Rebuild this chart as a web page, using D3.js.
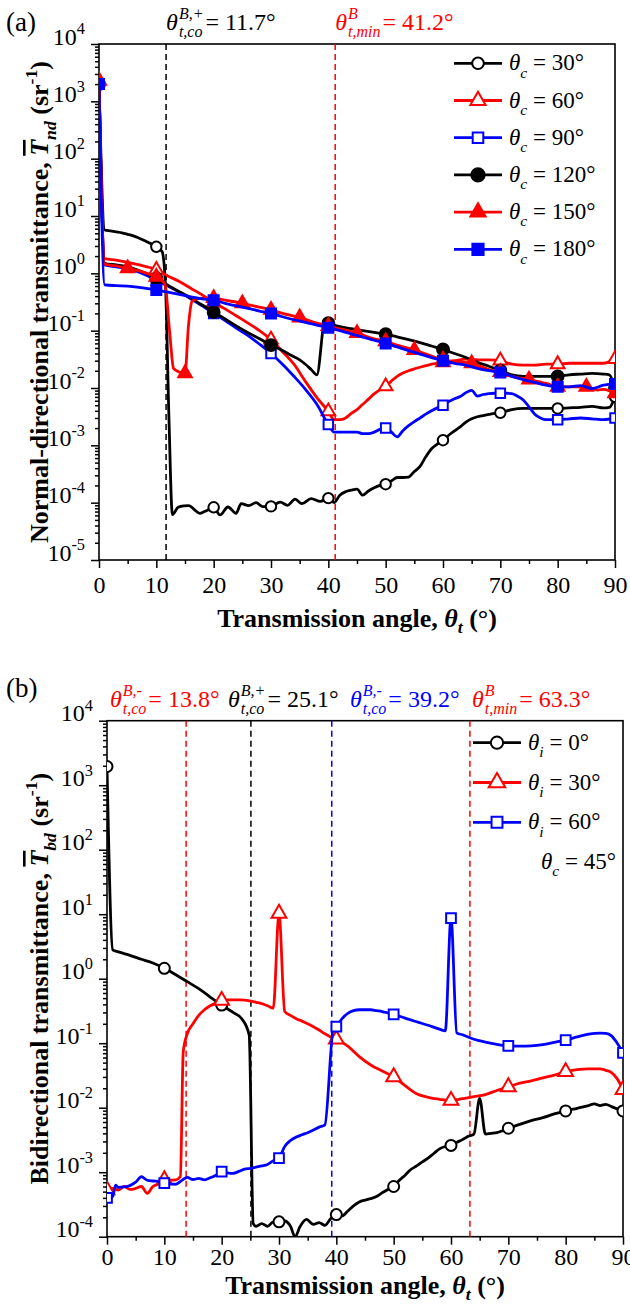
<!DOCTYPE html>
<html>
<head>
<meta charset="utf-8">
<script src="https://cdn.jsdelivr.net/npm/d3@7"></script>
<style>
  body { margin: 0; background: #fff; }
  svg text { font-family: "Liberation Serif", "Times New Roman", serif; }
</style>
</head>
<body>
<div id="plot"></div>
<script>
// ---------- data: panel (a), normal-directional transmittance ----------
var xTicks = [0, 10, 20, 30, 40, 50, 60, 70, 80, 90];
var xMinor = [5, 15, 25, 35, 45, 55, 65, 75, 85];
var expA = [-5, -4, -3, -2, -1, 0, 1, 2, 3, 4];
var expB = [-4, -3, -2, -1, 0, 1, 2, 3, 4];

var nd30 = [[0,2000],[1,5.7],[2,5.5],[3,5.3],[4,5.1],[5,4.8],[6,4.5],[7,4.1],[8,3.7],[9,3.3],[10,2.9],[11,2.4],[11.6,0.6],[12.2,0.003],[12.8,6.2e-5],[13.8,8.3e-5],[14.8,8.8e-5],[15.7,8.9e-5],[16.6,7.6e-5],[17.6,6.5e-5],[18.4,7.0e-5],[19.1,7.5e-5],[20,8.3e-5],[21.1,6.1e-5],[22.5,8.4e-5],[23.9,6.5e-5],[24.8,9.6e-5],[26.1,8.9e-5],[27.4,1.0e-4],[28.6,8.5e-5],[30,8.6e-5],[31.6,1.02e-4],[32.9,9.0e-5],[34.2,1.15e-4],[35.4,9.6e-5],[37,1.18e-4],[38.6,1.05e-4],[40,1.2e-4],[41,1.0e-4],[42,1.35e-4],[43,1.55e-4],[44,1.65e-4],[45,1.72e-4],[46,1.35e-4],[47,1.6e-4],[48,1.82e-4],[49,2.0e-4],[50,2.1e-4],[51,2.4e-4],[52,2.75e-4],[53,2.75e-4],[54,2.8e-4],[55,3.5e-4],[56,4.3e-4],[57,6.3e-4],[58,8.7e-4],[59,1.05e-3],[60,1.23e-3],[61,1.5e-3],[62,1.78e-3],[63,2.1e-3],[64,2.55e-3],[65,2.9e-3],[66,3.15e-3],[67,3.3e-3],[68,3.45e-3],[69,3.6e-3],[70,3.7e-3],[72,4.2e-3],[74,4.4e-3],[76,4.4e-3],[78,4.4e-3],[80,4.4e-3],[82,4.5e-3],[84,4.6e-3],[86,4.8e-3],[88,4.5e-3],[89,4.6e-3],[90,7e-3]];

var nd60 = [[0,2300],[1,1.8],[3,1.7],[5,1.55],[7,1.4],[9,1.25],[10,1.15],[12,0.9],[14,0.72],[16,0.55],[18,0.42],[20,0.31],[22,0.24],[24,0.18],[26,0.135],[28,0.1],[30,0.07],[32,0.043],[34,0.026],[36,0.013],[38,0.0068],[40,0.0039],[41,0.0028],[42,0.0028],[43,0.003],[44,0.0036],[45,0.0042],[46,0.0052],[47,0.0064],[48,0.0079],[49,0.0093],[50,0.0107],[51,0.0132],[52,0.016],[53,0.0182],[54,0.02],[55,0.0215],[56,0.023],[57,0.0245],[58,0.026],[59,0.027],[60,0.028],[62,0.03],[64,0.032],[66,0.031],[68,0.031],[70,0.03],[72,0.026],[74,0.025],[76,0.025],[78,0.026],[80,0.026],[82,0.027],[84,0.027],[86,0.027],[88,0.027],[90,0.032]];

var nd90 = [[0,2000],[1,1.4],[3,1.3],[5,1.2],[7,1.05],[9,0.85],[10,0.75],[12,0.6],[14,0.47],[16,0.36],[18,0.27],[20,0.2],[22,0.15],[24,0.11],[26,0.082],[28,0.058],[30,0.04],[32,0.026],[34,0.016],[36,0.0095],[38,0.0052],[40,0.0023],[41,0.0017],[42,0.0017],[43,0.0017],[44,0.0017],[45,0.0017],[46,0.0016],[47,0.0016],[48,0.0017],[49,0.0019],[50,0.002],[51,0.0017],[52,0.0014],[53,0.0018],[54,0.0022],[55,0.0026],[56,0.003],[57,0.0035],[58,0.004],[59,0.0045],[60,0.005],[61,0.0058],[62,0.0065],[63,0.0071],[64,0.0083],[65,0.0091],[66,0.0072],[67,0.0077],[68,0.008],[69,0.0081],[70,0.0081],[71,0.0081],[72,0.008],[73,0.0072],[74,0.0062],[75,0.0047],[76,0.0035],[77,0.003],[78,0.0028],[80,0.0028],[82,0.0029],[84,0.003],[86,0.0029],[88,0.0028],[90,0.003]];

var nd120 = [[0,2000],[1,1.5],[3,1.4],[5,1.3],[7,1.12],[9,0.92],[10,0.82],[12,0.62],[14,0.48],[16,0.37],[18,0.28],[20,0.21],[22,0.16],[24,0.12],[26,0.092],[28,0.072],[30,0.056],[32,0.045],[34,0.035],[35,0.031],[36,0.026],[37,0.021],[38,0.017],[39.4,0.145],[40,0.135],[42,0.118],[44,0.108],[46,0.1],[48,0.093],[50,0.087],[52,0.078],[54,0.07],[56,0.062],[58,0.054],[60,0.047],[62,0.04],[64,0.034],[66,0.028],[68,0.024],[70,0.02],[72,0.017],[74,0.016],[76,0.016],[78,0.016],[80,0.016],[82,0.017],[84,0.0175],[86,0.018],[88,0.0175],[89,0.017],[90,0.010]];

var nd150 = [[0,2300],[1,1.45],[3,1.35],[5,1.22],[7,1.1],[9,0.95],[10,0.87],[11.5,0.65],[12.3,0.1],[13,0.022],[14,0.019],[15,0.018],[15.6,0.12],[16.2,0.32],[17,0.36],[18,0.37],[20,0.37],[22,0.34],[25,0.3],[27,0.27],[30,0.23],[32,0.2],[35,0.17],[38,0.135],[40,0.12],[42,0.108],[45,0.091],[48,0.072],[50,0.065],[52,0.056],[55,0.046],[58,0.036],[60,0.031],[62,0.029],[65,0.027],[68,0.021],[70,0.019],[72,0.016],[75,0.014],[78,0.012],[80,0.0105],[82,0.0105],[85,0.0105],[87,0.0092],[88,0.0095],[90,0.0081]];

var nd180 = [[0,2000],[1,0.63],[3,0.61],[5,0.6],[7,0.57],[9,0.53],[10,0.51],[12,0.47],[14,0.43],[16,0.39],[18,0.36],[20,0.34],[22,0.3],[24,0.27],[26,0.245],[28,0.22],[30,0.2],[32,0.175],[34,0.155],[36,0.14],[38,0.125],[40,0.112],[42,0.1],[44,0.088],[46,0.077],[48,0.068],[50,0.06],[52,0.052],[54,0.045],[56,0.039],[58,0.034],[60,0.03],[62,0.027],[64,0.025],[66,0.022],[68,0.02],[70,0.0186],[72,0.016],[74,0.014],[76,0.0125],[78,0.0112],[80,0.0105],[82,0.0105],[84,0.011],[86,0.0098],[88,0.0112],[90,0.0118]];

// ---------- data: panel (b), bidirectional transmittance ----------
var bd0 = [[0,1950],[1,2.8],[2,2.6],[4,2.3],[6,2.0],[8,1.75],[10,1.45],[12,1.15],[14,0.9],[16,0.7],[18,0.52],[20,0.39],[22,0.3],[23.5,0.24],[24.8,0.134],[25.5,1.6e-4],[26,1.45e-4],[27,1.6e-4],[28,1.45e-4],[29,1.7e-4],[30,1.7e-4],[31,1.75e-4],[32,1.45e-4],[32.8,1.0e-4],[33.7,1.45e-4],[34.8,1.85e-4],[36,1.55e-4],[37,1.65e-4],[38,1.5e-4],[39,1.9e-4],[40,2.2e-4],[41,2.1e-4],[42,2.5e-4],[43,3.0e-4],[44,3.45e-4],[45,3.7e-4],[46,3.9e-4],[47,4.2e-4],[48,4.8e-4],[49,5.4e-4],[50,6.0e-4],[51,7.5e-4],[52,9.0e-4],[53,1.1e-3],[54,1.25e-3],[55,1.45e-3],[56,1.65e-3],[57,1.95e-3],[58,2.3e-3],[59,2.5e-3],[60,2.6e-3],[61,2.9e-3],[62,3.2e-3],[63,3.6e-3],[64,3.9e-3],[65,0.014],[66,3.9e-3],[67,4.0e-3],[68,4.1e-3],[69,4.4e-3],[70,4.8e-3],[72,5.5e-3],[74,6.3e-3],[76,7.0e-3],[78,8.0e-3],[80,8.9e-3],[82,9.8e-3],[84,0.0108],[85,0.0115],[86,0.0108],[87,0.0113],[88,0.0104],[89,0.0096],[90,0.0089]];

var bd30 = [[0,5.3e-4],[1,5.6e-4],[2,5.3e-4],[3,6.0e-4],[4,5.4e-4],[5,5.6e-4],[6,6.0e-4],[7,4.7e-4],[8,6.0e-4],[9,6.6e-4],[10,7.6e-4],[11,7.5e-4],[12,7.6e-4],[12.8,8.6e-4],[13.3,0.074],[14,0.14],[15,0.2],[16,0.27],[17,0.33],[18,0.38],[19,0.42],[20,0.46],[21,0.47],[22,0.47],[23,0.47],[24,0.465],[25,0.45],[26,0.43],[27,0.41],[28,0.38],[29,0.35],[30,10.3],[31,0.31],[32,0.27],[33,0.24],[34,0.22],[35,0.2],[36,0.18],[37,0.16],[38,0.14],[39,0.125],[40,0.115],[42,0.09],[44,0.062],[46,0.046],[48,0.037],[50,0.030],[52,0.022],[54,0.0165],[56,0.0145],[58,0.0135],[60,0.0129],[62,0.0138],[64,0.0148],[66,0.016],[68,0.0185],[70,0.021],[72,0.024],[74,0.026],[76,0.029],[78,0.032],[80,0.036],[82,0.039],[84,0.04],[86,0.04],[87,0.038],[88,0.035],[89,0.028],[90,0.019]];

var bd60 = [[0,4.0e-4],[1,4.2e-4],[1.5,6.3e-4],[2,5.8e-4],[3,5.9e-4],[4,6.2e-4],[5,7.0e-4],[6,8.5e-4],[7,7.5e-4],[8,7.3e-4],[9,7.2e-4],[10,6.8e-4],[11,6.6e-4],[12,6.5e-4],[13,7.4e-4],[14,8.3e-4],[15,7.7e-4],[16,8.0e-4],[17,7.6e-4],[18,8.2e-4],[19,9.0e-4],[20,1.02e-3],[21,9.8e-4],[22,9.6e-4],[23,1.03e-3],[24,1.12e-3],[25,1.15e-3],[26,1.2e-3],[27,1.25e-3],[28,1.32e-3],[29,1.5e-3],[30,1.65e-3],[31,2.5e-3],[32,3.1e-3],[33,3.5e-3],[34,3.8e-3],[35,4.1e-3],[36,4.5e-3],[37,5.0e-3],[38,5.4e-3],[39.5,0.17],[40,0.18],[41,0.24],[42,0.29],[43,0.32],[44,0.33],[45,0.33],[46,0.33],[47,0.32],[48,0.31],[49,0.295],[50,0.28],[52,0.245],[54,0.215],[56,0.19],[58,0.165],[59,0.155],[60,8.7],[61,0.145],[62,0.135],[64,0.115],[66,0.104],[68,0.096],[70,0.091],[72,0.09],[74,0.091],[76,0.095],[78,0.103],[80,0.112],[82,0.125],[84,0.138],[86,0.143],[87,0.142],[88,0.13],[89,0.1],[90,0.071]];

// legend / annotation labels
var legendA = ["30°", "60°", "90°", "120°", "150°", "180°"];
var legendB = ["0°", "30°", "60°"];
var markA = [11.7, 41.2];
var markB = [13.8, 25.1, 39.2, 63.3];

var FS = 24;     // tick labels, annotations
var LFS = 23;    // legend
var TFS = 26;    // axis titles
var svg = d3.select("#plot").append("svg")
    .attr("width", 630)
    .attr("height", 1308);

// rich text with italic / sub / sup pieces in tspans
function rich(t, parts, fs, subShift) {
    var shift = 0;
    var sb = subShift || 0.32;
    parts.forEach(function(p) {
        var target = p.s === "sub" ? fs * sb : (p.s === "sup" ? -fs * 0.42 : 0);
        var ts = t.append("tspan").text(p.t)
            .attr("dy", target - shift)
            .style("font-size", (p.s ? fs * 0.68 : fs) + "px");
        if (p.i) ts.style("font-style", "italic");
        if (p.o) ts.style("text-decoration", "overline");
        shift = target;
    });
}

// theta with stacked super- and subscript, then "= value"
function stacked(x, y, color, sup, sub, rest) {
    var g = svg.append("g").attr("fill", color);
    var t1 = g.append("text").attr("x", x).attr("y", y).style("font-size", FS + "px")
        .style("font-style", "italic").text("θ");
    var w = t1.node().getComputedTextLength();
    var s1 = g.append("text").attr("x", x + w + 1).attr("y", y - 11).style("font-size", "16px")
        .style("font-style", "italic").text(sup);
    var s2 = g.append("text").attr("x", x + w + 1).attr("y", y + 7).style("font-size", "16px")
        .style("font-style", "italic").text(sub);
    var ws = Math.max(s1.node().getComputedTextLength(), s2.node().getComputedTextLength());
    g.append("text").attr("x", x + w + ws + 3).attr("y", y).style("font-size", FS + "px").text(rest);
}

function panel(cfg) {
    var x = d3.scaleLinear().domain([0, 90]).range([cfg.left, cfg.left + 516]);
    var y = d3.scaleLog().domain([Math.pow(10, cfg.exps[0]), Math.pow(10, cfg.exps[cfg.exps.length - 1])])
        .range([cfg.bottom, cfg.top]);
    var g = svg.append("g");

    // Axes
    var majorY = cfg.exps.map(function(e) { return Math.pow(10, e); });
    var minorY = [];
    cfg.exps.slice(0, -1).forEach(function(e) {
        for (var m = 2; m <= 9; m++) minorY.push(m * Math.pow(10, e));
    });
    g.append("g").attr("transform", "translate(0," + cfg.bottom + ")")
        .call(d3.axisBottom(x).tickValues(xMinor).tickSize(4).tickFormat(""));
    var xa = g.append("g").attr("transform", "translate(0," + cfg.bottom + ")")
        .call(d3.axisBottom(x).tickValues(xTicks).tickSize(8).tickPadding(cfg.xPad));
    xa.selectAll("text").style("font-size", FS + "px").attr("fill", "#000");
    g.append("g").attr("transform", "translate(" + cfg.left + ",0)")
        .call(d3.axisLeft(y).tickValues(minorY).tickSize(4).tickFormat(""));
    var ya = g.append("g").attr("transform", "translate(" + cfg.left + ",0)")
        .call(d3.axisLeft(y).tickValues(majorY).tickSize(8).tickPadding(6));
    ya.selectAll(".tick text").each(function(d) {
        var t = d3.select(this).text(null).attr("dy", "0.32em").attr("fill", "#000");
        rich(t, [{t: "10"}, {t: String(Math.round(Math.log10(d))), s: "sup"}], FS);
    });
    g.selectAll(".domain").remove();
    g.selectAll(".tick line").attr("stroke", "#000").attr("stroke-width", 1.5);
    g.selectAll("g").attr("font-family", null);

    // Frame
    g.append("rect").attr("x", cfg.left).attr("y", cfg.top)
        .attr("width", 516).attr("height", cfg.bottom - cfg.top)
        .attr("fill", "none").attr("stroke", "#000").attr("stroke-width", 1.6);

    // Dashed guide lines
    cfg.guides.forEach(function(d) {
        g.append("line").attr("x1", x(d.v)).attr("x2", x(d.v))
            .attr("y1", cfg.top).attr("y2", cfg.bottom)
            .attr("stroke", d.c).attr("stroke-width", 1.5).attr("stroke-dasharray", "6,4");
    });

    // Clip
    var clipId = "clip" + cfg.name;
    svg.append("clipPath").attr("id", clipId).append("rect")
        .attr("x", cfg.left).attr("y", cfg.top).attr("width", 516).attr("height", cfg.bottom - cfg.top);
    var plot = g.append("g").attr("clip-path", "url(#" + clipId + ")");

    var line = d3.line()
        .x(function(d) { return x(d[0]); })
        .y(function(d) { return y(d[1]); })
        .curve(d3.curveMonotoneX);

    cfg.series.forEach(function(s) {
        plot.append("path").datum(s.data)
            .attr("d", line).attr("fill", "none")
            .attr("stroke", s.color).attr("stroke-width", 2.8).attr("stroke-linejoin", "round");
        var pts = s.data.filter(function(d) { return d[0] % s.step === 0; });
        plot.selectAll(null).data(pts).enter().append("path")
            .attr("transform", function(d) { return "translate(" + x(d[0]) + "," + y(d[1]) + ")"; })
            .attr("d", d3.symbol().type(s.shape).size(s.size))
            .attr("fill", s.filled ? s.color : "#fff")
            .attr("stroke", s.color).attr("stroke-width", 2);
    });

    // Legend
    cfg.series.forEach(function(s, i) {
        var ly = cfg.legY + i * cfg.legDy;
        g.append("line").attr("x1", cfg.legX).attr("x2", cfg.legX + 48)
            .attr("y1", ly).attr("y2", ly).attr("stroke", s.color).attr("stroke-width", 2.8);
        g.append("path").attr("transform", "translate(" + (cfg.legX + 24) + "," + ly + ")")
            .attr("d", d3.symbol().type(s.shape).size(s.size * 1.25))
            .attr("fill", s.filled ? s.color : "#fff")
            .attr("stroke", s.color).attr("stroke-width", 2);
        var t = g.append("text").attr("x", cfg.legX + 55).attr("y", ly + 7).style("font-size", LFS + "px");
        rich(t, [{t: "θ", i: true}, {t: cfg.sym, i: true, s: "sub"}, {t: " = " + s.label}], LFS);
    });

    // Axis titles
    var xt = g.append("text").attr("x", cfg.left + 258).attr("y", cfg.xTitleY)
        .attr("text-anchor", "middle").style("font-weight", "bold").style("font-size", TFS + "px");
    rich(xt, [{t: "Transmission angle, "}, {t: "θ", i: true}, {t: "t", i: true, s: "sub"}, {t: " (°)"}], TFS, 0.24);
    var yt = g.append("text")
        .attr("transform", "translate(" + cfg.yTitleX + "," + ((cfg.top + cfg.bottom) / 2) + ") rotate(-90)")
        .attr("text-anchor", "middle").style("font-weight", "bold").style("font-size", TFS + "px");
    rich(yt, [{t: cfg.yTitle}, {t: "T", i: true, o: true}, {t: cfg.ySub, i: true, s: "sub"},
        {t: " (sr"}, {t: "-1", s: "sup"}, {t: ")"}], TFS);

    g.append("text").attr("x", 6).attr("y", cfg.tagY).style("font-size", "27px").text(cfg.tag);
    return x;
}

var circ = d3.symbolCircle, tri = d3.symbolTriangle, sq = d3.symbolSquare;

var xA = panel({
    name: "A", left: 99, top: 44, bottom: 560, exps: expA, xPad: 8, xTitleY: 627,
    yTitleX: 48, yTitle: "Normal-directional transmittance, ", ySub: "nd", tag: "(a)", tagY: 31,
    sym: "c", legX: 454, legY: 63.3, legDy: 37.2,
    guides: [{v: markA[0], c: "#000"}, {v: markA[1], c: "#ff0000"}],
    series: [
        {data: nd30, color: "#000", shape: circ, filled: false, step: 10, size: 85, label: legendA[0]},
        {data: nd60, color: "#ff0000", shape: tri, filled: false, step: 10, size: 80, label: legendA[1]},
        {data: nd90, color: "#0000ff", shape: sq, filled: false, step: 10, size: 90, label: legendA[2]},
        {data: nd120, color: "#000", shape: circ, filled: true, step: 10, size: 110, label: legendA[3]},
        {data: nd150, color: "#ff0000", shape: tri, filled: true, step: 5, size: 80, label: legendA[4]},
        {data: nd180, color: "#0000ff", shape: sq, filled: true, step: 10, size: 100, label: legendA[5]}
    ]
});

var xB = panel({
    name: "B", left: 107, top: 720.7, bottom: 1236.7, exps: expB, xPad: 3, xTitleY: 1294,
    yTitleX: 48, yTitle: "Bidirectional transmittance, ", ySub: "bd", tag: "(b)", tagY: 697,
    sym: "i", legX: 473, legY: 742.7, legDy: 39.8,
    guides: [{v: markB[0], c: "#ff0000"}, {v: markB[1], c: "#000"}, {v: markB[2], c: "#0000ff"}, {v: markB[3], c: "#ff0000"}],
    series: [
        {data: bd0, color: "#000", shape: circ, filled: false, step: 10, size: 95, label: legendB[0]},
        {data: bd30, color: "#ff0000", shape: tri, filled: false, step: 10, size: 95, label: legendB[1]},
        {data: bd60, color: "#0000ff", shape: sq, filled: false, step: 10, size: 95, label: legendB[2]}
    ]
});

// theta_c note in panel (b)
var tc = svg.append("text").attr("x", 541).attr("y", 869).style("font-size", LFS + "px");
rich(tc, [{t: "θ", i: true}, {t: "c", i: true, s: "sub"}, {t: " = 45°"}], LFS);

// Annotations above the panels
stacked(xA(markA[0]), 30, "#000", "B,+", "t,co", "= " + markA[0] + "°");
stacked(xA(markA[1]), 30, "#ff0000", "B", "t,min", "= " + markA[1] + "°");
stacked(110, 707, "#ff0000", "B,-", "t,co", "= " + markB[0] + "°");
stacked(228, 707, "#000", "B,+", "t,co", "= " + markB[1] + "°");
stacked(350, 707, "#0000ff", "B,-", "t,co", "= " + markB[2] + "°");
stacked(472, 707, "#ff0000", "B", "t,min", "= " + markB[3] + "°");
</script>
</body>
</html>
